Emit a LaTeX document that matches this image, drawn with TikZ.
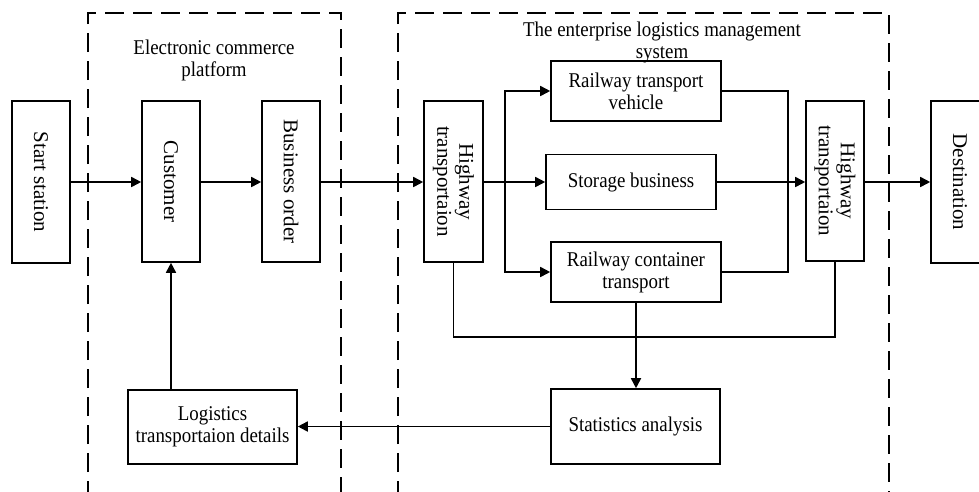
\documentclass[tikz,border=0pt]{standalone}
\usepackage{fontspec}
\setmainfont{Liberation Serif}[FakeStretch=0.9]
\newfontfamily\rotfont{Liberation Serif}
\usetikzlibrary{arrows.meta}
\tikzset{
  box/.style={draw, line width=1.6pt, rectangle, inner sep=0pt, align=center,
    font=\fontsize{21}{22}\selectfont},
  vbox/.style={box, font=\rotfont\fontsize{21}{22}\selectfont},
  vtext/.style={rotate=-90, align=center, font=\rotfont\fontsize{21}{22}\selectfont},
  arr/.style={line width=1.7pt, -{Triangle[length=10pt,width=10pt]}},
  ln/.style={line width=1.7pt},
  frame/.style={line width=2pt, dash pattern=on 19pt off 9pt},
  ttl/.style={align=center, font=\fontsize{21}{22}\selectfont, inner sep=0pt}
}
\begin{document}
\begin{tikzpicture}[x=1pt,y=-1pt]
\useasboundingbox (0,0) rectangle (979,491);
% frames
\coordinate (fa1) at (88,500); \coordinate (fa2) at (341,13); \coordinate (fa3) at (341,500);
\coordinate (fb1) at (398,500); \coordinate (fb2) at (889,13); \coordinate (fb3) at (889,500);
\draw[frame] (fa1) |- (fa2) -- (fa3);
\draw[frame] (fb1) |- (fb2) -- (fb3);
\node[ttl] (t1) at (214,60) {Electronic commerce\\platform};
\node[ttl] (t2) at (662,42) {The enterprise logistics management\\system};
% boxes
\node[vbox, minimum width=58, minimum height=162] (start) at (41,182) {};
\node[vtext] at (start) {Start station};
\node[vbox, minimum width=58, minimum height=161] (cust) at (171,181.5) {};
\node[vtext] at (cust) {Customer};
\node[vbox, minimum width=58, minimum height=161] (bo) at (291,181.5) {};
\node[vtext] at (bo) {Business order};
\node[vbox, minimum width=59, minimum height=161] (hw1) at (453.5,181.5) {};
\node[vtext] at (hw1) {Highway\\transportaion};
\node[box, minimum width=170, minimum height=60] (rtv) at (636,91) {Railway transport\\vehicle};
\node[box, minimum width=170, minimum height=55] (sto) at (631,182) {Storage business};
\node[box, minimum width=170, minimum height=60] (rct) at (636,272) {Railway container\\transport};
\node[vbox, minimum width=58, minimum height=160] (hw2) at (835,181) {};
\node[vtext] at (hw2) {Highway\\transportaion};
\node[vbox, minimum width=58, minimum height=162] (dest) at (960,182) {};
\node[vtext] at (dest) {Destination};
\node[box, minimum width=169, minimum height=74] (log) at (212.5,427) {Logistics\\transportaion details};
\node[box, minimum width=169, minimum height=75] (stat) at (635.5,426.5) {Statistics analysis};
% connectors
\draw[arr] (start.east |- 0,182) -- (cust.west |- 0,182);
\draw[arr] (cust.east |- 0,182) -- (bo.west |- 0,182);
\draw[arr] (bo.east |- 0,182) -- (hw1.west |- 0,182);
\draw[arr] (hw1.east |- sto.west) -- (sto.west);
\coordinate (br) at (505,182);
\draw[arr] (br) |- (rtv.west);
\draw[arr] (br) |- (rct.west);
\coordinate (mg) at (788,182);
\draw[ln] (rtv.east) -| (mg) |- (rct.east);
\draw[arr] (sto.east) -- (hw2.west |- sto.east);
\draw[arr] (hw2.east |- 0,182) -- (dest.west |- 0,182);
\coordinate (lp) at (640,337);
\draw[ln] (hw1.south) |- (lp) -| (hw2.south);
\draw[arr] (rct.south) -- (rct.south |- stat.north);
\draw[arr] (stat.west) -- (log.east |- stat.west);
\draw[arr] (log.north -| cust.south) -- (cust.south);
\end{tikzpicture}
\end{document}
